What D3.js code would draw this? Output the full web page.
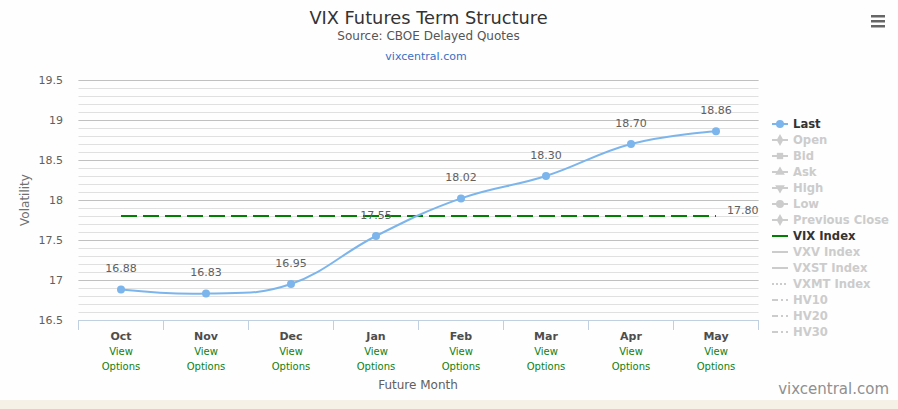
<!DOCTYPE html>
<html><head><meta charset="utf-8">
<script src="https://cdn.jsdelivr.net/npm/d3@7"></script>
<style>
html,body{margin:0;padding:0;background:#fff;}
svg{display:block;font-family:"DejaVu Sans",sans-serif;}
</style></head><body>
<svg id="c" width="898" height="409"></svg>
<script>
const months = ["Oct","Nov","Dec","Jan","Feb","Mar","Apr","May"];
const lastValues = [16.88,16.83,16.95,17.55,18.02,18.30,18.70,18.86];
const vixIndex = 17.80;
const yTickLabels = [16.5,17,17.5,18,18.5,19,19.5];
const legendItems = [
  {name:"Last", type:"circle", active:true},
  {name:"Open", type:"diamond", active:false},
  {name:"Bid", type:"square", active:false},
  {name:"Ask", type:"triangle", active:false},
  {name:"High", type:"triangle-down", active:false},
  {name:"Low", type:"circle", active:false},
  {name:"Previous Close", type:"diamond", active:false},
  {name:"VIX Index", type:"line", active:true},
  {name:"VXV Index", type:"line", active:false},
  {name:"VXST Index", type:"line", active:false},
  {name:"VXMT Index", type:"dot", active:false},
  {name:"HV10", type:"dashdot", active:false},
  {name:"HV20", type:"dashdot", active:false},
  {name:"HV30", type:"dashdot", active:false}
];

const svg = d3.select("#c");
const L = 78.5, R = 758.5, T = 80, B = 320;
svg.append("rect").attr("width",898).attr("height",409).attr("fill","#fefefe");
svg.append("rect").attr("y",400).attr("width",898).attr("height",9).attr("fill","#f5f1e6");

const x = d3.scalePoint().domain(months).range([L,R]).padding(0.5);
const y = d3.scaleLinear().domain([16.5,19.5]).range([B,T]);
const step = x.step();

// minor grid
const g = svg.append("g");
g.selectAll(".minor").data(y.ticks(30)).enter().append("line")
  .attr("x1",L).attr("x2",R).attr("y1",d=>Math.round(y(d))+0.5).attr("y2",d=>Math.round(y(d))+0.5)
  .attr("stroke","#e0e0e0");
g.selectAll(".major").data(yTickLabels).enter().append("line")
  .attr("x1",L).attr("x2",R).attr("y1",d=>Math.round(y(d))+0.5).attr("y2",d=>Math.round(y(d))+0.5)
  .attr("stroke","#c0c0c0");

// y labels
svg.append("g").selectAll("text").data(yTickLabels).enter().append("text")
  .attr("x",63).attr("y",d=>y(d)).attr("dy","0.35em").attr("text-anchor","end")
  .attr("font-size",11).attr("fill","#606060").text(d=>d);

svg.append("text").attr("transform","translate(29,200) rotate(-90)")
  .attr("text-anchor","middle").attr("font-size",12).attr("fill","#707070").text("Volatility");

// x axis line & ticks
svg.append("line").attr("x1",L).attr("x2",R).attr("y1",B+0.5).attr("y2",B+0.5).attr("stroke","#c0d0e0");
const bounds = months.map(m=>x(m)-step/2).concat([x(months[months.length-1])+step/2]);
svg.append("g").selectAll("line").data(bounds).enter().append("line")
  .attr("x1",d=>d).attr("x2",d=>d).attr("y1",B).attr("y2",B+10).attr("stroke","#c0d0e0");

const xl = svg.append("g").selectAll("g").data(months).enter().append("g");
xl.append("text").attr("x",d=>x(d)).attr("y",336).attr("dy","0.35em").attr("text-anchor","middle")
  .attr("font-size",11).attr("font-weight","bold").attr("fill","#4d4d4d").text(d=>d);
xl.append("text").attr("x",d=>x(d)).attr("y",351.5).attr("dy","0.35em").attr("text-anchor","middle")
  .attr("font-size",10).attr("fill","#108010").text("View");
xl.append("text").attr("x",d=>x(d)).attr("y",366.5).attr("dy","0.35em").attr("text-anchor","middle")
  .attr("font-size",10).attr("fill","#108010").text("Options");
svg.append("text").attr("x",418).attr("y",385).attr("dy","0.35em").attr("text-anchor","middle")
  .attr("font-size",12).attr("fill","#606060").text("Future Month");

// VIX line
const vixX0 = x(months[0]), vixX1 = x(months[months.length-1]);
svg.append("line").attr("x1",vixX0).attr("x2",vixX1).attr("y1",y(vixIndex)).attr("y2",y(vixIndex))
  .attr("stroke","#008000").attr("stroke-width",2).attr("stroke-dasharray","16,6");
svg.append("text").attr("x",vixX1+11).attr("y",y(vixIndex)-6).attr("dy","0.35em")
  .attr("font-size",11).attr("fill","#606060").text(vixIndex.toFixed(2));

// Last spline
const pts = months.map((m,i)=>[x(m), y(lastValues[i])]);
const line = d3.line().curve(d3.curveCardinal.tension(-0.2));
svg.append("path").attr("d",line(pts)).attr("fill","none").attr("stroke","#7cb5ec").attr("stroke-width",2);
svg.append("g").selectAll("circle").data(pts).enter().append("circle")
  .attr("cx",d=>d[0]).attr("cy",d=>d[1]).attr("r",4).attr("fill","#7cb5ec");
svg.append("g").selectAll("text").data(months).enter().append("text")
  .attr("x",d=>x(d)).attr("y",(d,i)=>y(lastValues[i])-21).attr("dy","0.35em").attr("text-anchor","middle")
  .attr("font-size",11).attr("fill","#606060").text((d,i)=>lastValues[i].toFixed(2));

// title
svg.append("text").attr("x",428.5).attr("y",18).attr("dy","0.35em").attr("text-anchor","middle")
  .attr("font-size",17.8).attr("fill","#333").text("VIX Futures Term Structure");
svg.append("text").attr("x",428.5).attr("y",36).attr("dy","0.35em").attr("text-anchor","middle")
  .attr("font-size",12).attr("fill","#555").text("Source: CBOE Delayed Quotes");
svg.append("text").attr("x",426).attr("y",56).attr("dy","0.35em").attr("text-anchor","middle")
  .attr("font-size",11).attr("fill","#3a6fc4").text("vixcentral.com");

// legend
const lg = svg.append("g").selectAll("g").data(legendItems).enter().append("g")
  .attr("transform",(d,i)=>`translate(772,${124+i*16})`);
lg.each(function(d){
  const s = d3.select(this);
  const c = d.name==="Last" ? "#7cb5ec" : d.name==="VIX Index" ? "#008000" : "#cccccc";
  let dash = null;
  if(d.type==="dot") dash="2,2";
  if(d.type==="dashdot") dash="6,3,2,3";
  s.append("line").attr("x1",0).attr("x2",16).attr("y1",0).attr("y2",0)
    .attr("stroke",c).attr("stroke-width",2).attr("stroke-dasharray",dash);
  const sym = {circle:d3.symbolCircle, diamond:d3.symbolDiamond, square:d3.symbolSquare, triangle:d3.symbolTriangle}[d.type];
  if(sym){
    s.append("path").attr("d",d3.symbol().type(sym).size(d.type==="circle"?50:40)()).attr("transform","translate(8,0)").attr("fill",c);
  } else if(d.type==="triangle-down"){
    s.append("path").attr("d",d3.symbol().type(d3.symbolTriangle).size(40)()).attr("transform","translate(8,0) rotate(180)").attr("fill",c);
  }
  s.append("text").attr("x",21).attr("dy","0.35em").attr("font-size",11.6).attr("font-weight","bold")
    .attr("fill",d.active?"#333":"#cccccc").text(d.name);
});

// hamburger
svg.append("g").selectAll("rect").data([0,1,2]).enter().append("rect")
  .attr("x",871).attr("y",d=>15+d*5).attr("width",14).attr("height",2.5).attr("fill","#666");

// credits
svg.append("text").attr("x",889).attr("y",389).attr("dy","0.35em").attr("text-anchor","end")
  .attr("font-size",15).attr("fill","#909090").text("vixcentral.com");
</script></body></html>
